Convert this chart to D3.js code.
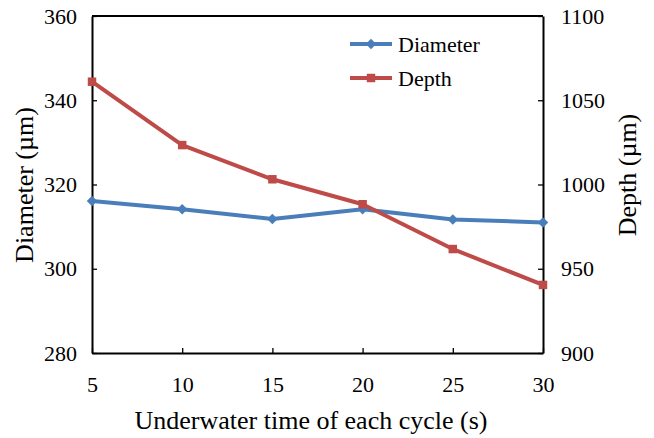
<!DOCTYPE html>
<html>
<head>
<meta charset="utf-8">
<script src="https://cdn.jsdelivr.net/npm/d3@7"></script>
<style>
  body { margin: 0; background: #fff; }
  svg, svg text { font-family: "Liberation Serif", "Times New Roman", serif; }
</style>
</head>
<body>
<div id="chart"></div>
<script>
// data
const times = [5, 10, 15, 20, 25, 30];
const diameter = [316.1, 314.1, 311.8, 314.1, 311.7, 311.0];
const depth = [1061.0, 1023.4, 1003.1, 988.3, 961.7, 940.4];
const leftTicks = [280, 300, 320, 340, 360];
const rightTicks = [900, 950, 1000, 1050, 1100];
const xTicks = [5, 10, 15, 20, 25, 30];

//size
const width = 654, height = 438;
const margin = { top: 16, right: 111, bottom: 85, left: 92 };
const innerWidth = width - margin.left - margin.right;
const innerHeight = height - margin.top - margin.bottom;

const blue = "#4a7ebb", red = "#be4b48";
const serif = "'Liberation Serif', 'Times New Roman', serif";

//scale
const xScale = d3.scaleLinear().domain([5, 30]).range([0, innerWidth]);
const yLeft = d3.scaleLinear().domain([280, 360]).range([innerHeight, 0]);
const yRight = d3.scaleLinear().domain([900, 1100]).range([innerHeight, 0]);

const svg = d3.select("#chart").append("svg")
  .attr("width", width)
  .attr("height", height);

const g = svg.append("g").attr("transform", `translate(${margin.left},${margin.top})`);

//axes
const styleAxis = (sel) => {
  sel.attr("font-family", serif).attr("font-size", 22);
  sel.select(".domain").attr("stroke", "#000").attr("stroke-width", 2);
  sel.selectAll(".tick line").attr("stroke", "#000").attr("stroke-width", 1.3);
  sel.selectAll(".tick text").attr("fill", "#000")
    .style("font-family", serif).style("font-size", "22px");
};

g.append("g")
  .attr("transform", `translate(0,${innerHeight})`)
  .call(d3.axisBottom(xScale).tickValues(xTicks).tickSizeInner(-5).tickSizeOuter(0).tickPadding(23))
  .call(styleAxis);

g.append("g")
  .call(d3.axisLeft(yLeft).tickValues(leftTicks).tickSizeInner(-5).tickSizeOuter(0).tickPadding(15))
  .call(styleAxis);

g.append("g")
  .attr("transform", `translate(${innerWidth},0)`)
  .call(d3.axisRight(yRight).tickValues(rightTicks).tickFormat(d3.format("d"))
    .tickSizeInner(-5).tickSizeOuter(0).tickPadding(18))
  .call(styleAxis);

// top border
g.append("line")
  .attr("x1", 0).attr("x2", innerWidth).attr("y1", 0).attr("y2", 0)
  .attr("stroke", "#000").attr("stroke-width", 2);

//lines
const diaLine = d3.line().x((d, i) => xScale(times[i])).y((d) => yLeft(d));
const depLine = d3.line().x((d, i) => xScale(times[i])).y((d) => yRight(d));

g.append("path").datum(diameter)
  .attr("d", diaLine).attr("fill", "none")
  .attr("stroke", blue).attr("stroke-width", 4).attr("stroke-linejoin", "round");

g.append("path").datum(depth)
  .attr("d", depLine).attr("fill", "none")
  .attr("stroke", red).attr("stroke-width", 4).attr("stroke-linejoin", "round");

const diamond = d3.symbol().type(d3.symbolDiamond2).size(70);
const square = d3.symbol().type(d3.symbolSquare).size(72);

g.selectAll("path.dia")
  .data(diameter)
  .join("path")
  .attr("class", "dia")
  .attr("d", diamond)
  .attr("transform", (d, i) => `translate(${xScale(times[i])},${yLeft(d)})`)
  .attr("fill", blue);

g.selectAll("path.dep")
  .data(depth)
  .join("path")
  .attr("class", "dep")
  .attr("d", square)
  .attr("transform", (d, i) => `translate(${xScale(times[i])},${yRight(d)})`)
  .attr("fill", red);

//legend
const legend = svg.append("g");
const legendItems = [
  { name: "Diameter", color: blue, sym: diamond, y: 44 },
  { name: "Depth", color: red, sym: square, y: 78 },
];
legendItems.forEach((it) => {
  legend.append("line")
    .attr("x1", 350).attr("x2", 392).attr("y1", it.y).attr("y2", it.y)
    .attr("stroke", it.color).attr("stroke-width", 4);
  legend.append("path").attr("d", it.sym)
    .attr("transform", `translate(371,${it.y})`).attr("fill", it.color);
  legend.append("text")
    .attr("x", 398).attr("y", it.y + 7.5)
    .style("font-size", "22px").style("font-family", serif).attr("fill", "#000")
    .text(it.name);
});

//titles
svg.append("text")
  .attr("x", 311).attr("y", 429)
  .attr("text-anchor", "middle").style("font-size", "26px").style("font-family", serif)
  .text("Underwater time of each cycle (s)");

svg.append("text")
  .attr("transform", `translate(33,185) rotate(-90)`)
  .attr("text-anchor", "middle").style("font-size", "26px").style("font-family", serif)
  .text("Diameter (µm)");

svg.append("text")
  .attr("transform", `translate(636,175) rotate(-90)`)
  .attr("text-anchor", "middle").style("font-size", "26px").style("font-family", serif)
  .text("Depth (µm)");
</script>
</body>
</html>
